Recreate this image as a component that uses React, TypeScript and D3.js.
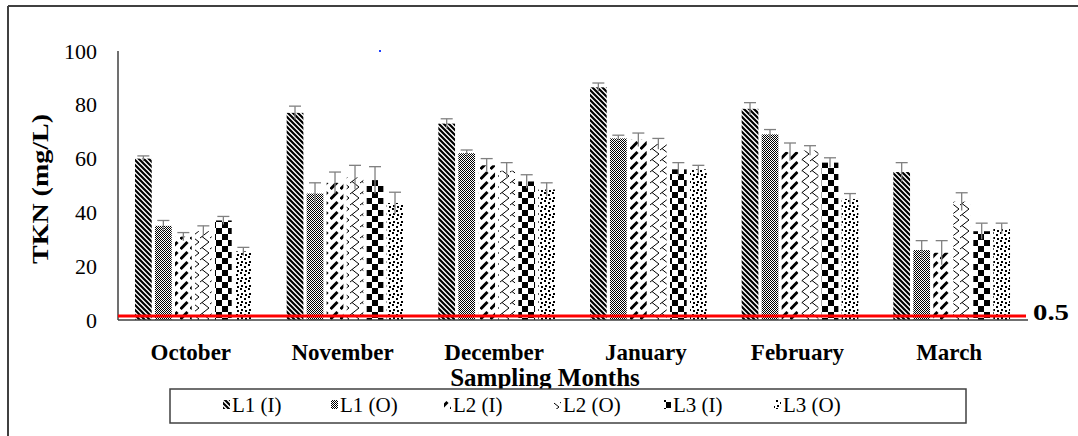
import React from "react";
import * as d3 from "d3";

const months = ["October", "November", "December", "January", "February", "March"];
const seriesNames = ["L1 (I)", "L1 (O)", "L2 (I)", "L2 (O)", "L3 (I)", "L3 (O)"];
const l1i = [60, 77, 73, 86.5, 78.5, 55];
const l1iErr = [1, 2.5, 1.8, 1.6, 2.3, 3.5];
const l1o = [35, 47, 62, 67.5, 69, 26];
const l1oErr = [2, 4, 1.2, 1.2, 1.8, 3.5];
const l2i = [31, 51, 57.5, 67, 62.5, 25];
const l2iErr = [1.5, 4, 2.5, 2.5, 3.3, 4.5];
const l2o = [33, 53, 55.5, 65.5, 63, 44];
const l2oErr = [2, 4.5, 3, 2, 1.8, 3.3];
const l3i = [37, 52, 51.5, 56, 58.5, 33];
const l3iErr = [1.5, 5, 2.5, 2.5, 1.8, 3];
const l3o = [25.5, 43.5, 48.5, 56, 45, 34];
const l3oErr = [1.5, 4, 2.5, 1.5, 2, 2];
const yTicks = [0, 20, 40, 60, 80, 100];
const threshold = 0.5;

const seriesValues = [l1i, l1o, l2i, l2o, l3i, l3o];
const seriesErrors = [l1iErr, l1oErr, l2iErr, l2oErr, l3iErr, l3oErr];
const patternIds = ["p0", "p1", "p2", "p3", "p4", "p5"];

const FONT = '"Liberation Serif"';

function Patterns() {
  return (
    <defs>
      <pattern id="p0" patternUnits="userSpaceOnUse" width="5" height="5">
        <rect width="5" height="5" fill="#fff" />
        <path d="M-1,-1 L6,6 M-6,-1 L1,6 M4,-1 L11,6" stroke="#000" strokeWidth="2.2" />
      </pattern>
      <pattern id="p1" patternUnits="userSpaceOnUse" width="2" height="2">
        <rect width="2" height="2" fill="#fff" />
        <rect x="0" y="0" width="1" height="1" fill="#000" />
        <rect x="1" y="1" width="1" height="1" fill="#000" />
      </pattern>
      <pattern id="p2" patternUnits="userSpaceOnUse" width="10" height="10">
        <rect width="10" height="10" fill="#fff" />
        <path d="M0.5,9 L7.5,2" stroke="#000" strokeWidth="3" strokeLinecap="butt" />
      </pattern>
      <pattern id="p3" patternUnits="userSpaceOnUse" width="10" height="11">
        <rect width="10" height="11" fill="#fff" />
        <path d="M9,0 L2,5.5 L9,11 M2,5.5 L0,7" stroke="#000" strokeWidth="1" fill="none" />
      </pattern>
      <pattern id="p4" patternUnits="userSpaceOnUse" width="12" height="12">
        <rect width="12" height="12" fill="#fff" />
        <rect x="0" y="0" width="6" height="6" fill="#000" />
        <rect x="6" y="6" width="6" height="6" fill="#000" />
      </pattern>
      <pattern id="p5" patternUnits="userSpaceOnUse" width="8" height="8">
        <rect width="8" height="8" fill="#fff" />
        <rect x="0" y="0" width="2" height="2" fill="#000" />
        <rect x="4" y="2" width="2" height="2" fill="#000" />
        <rect x="1" y="5" width="2" height="2" fill="#000" />
        <rect x="5" y="6" width="2" height="2" fill="#000" />
      </pattern>
    </defs>
  );
}

export default function App() {
  const W = 1078;
  const H = 436;
  const plotLeft = 118;
  const plotRight = 1028;
  const x0 = d3.scaleBand<string>().domain(months).range([plotLeft, plotRight]);
  const x1 = d3.scaleBand<string>().domain(seriesNames).range([17, 133.7]).paddingInner(0.165);
  const y = d3.scaleLinear().domain([0, 100]).range([320, 51]);
  const capW = 12;

  const legendX = [223, 331, 444, 554, 664, 774];
  const txt = { fontFamily: FONT };

  return (
    <svg width={W} height={H} style={{ position: "absolute", left: 0, top: 0, display: "block" }}>
      <Patterns />
      <rect width={W} height={H} fill="#fff" />
      <line x1={8} y1={6} x2={W} y2={6} stroke="#404040" strokeWidth={2} />
      <line x1={8} y1={6} x2={8} y2={H} stroke="#404040" strokeWidth={2} />

      <line x1={plotLeft} y1={y(100)} x2={plotLeft} y2={y(0)} stroke="#404040" strokeWidth={1.5} />
      {yTicks.map((t) => (
        <text key={t} style={txt} x={97} y={y(t)} textAnchor="end" dominantBaseline="central" fontSize={22} fill="#000">
          {t}
        </text>
      ))}
      <text
        style={txt}
        transform={`translate(40, 189) rotate(-90)`}
        textAnchor="middle"
        dominantBaseline="central"
        fontSize={23}
        fontWeight="bold"
        fill="#000"
        textLength={150}
        lengthAdjust="spacingAndGlyphs"
      >
        TKN  (mg/L)
      </text>

      {months.map((m, i) => (
        <g key={m}>
          {seriesNames.map((s, j) => {
            const bx = (x0(m) as number) + (x1(s) as number);
            const bw = x1.bandwidth();
            const v = seriesValues[j][i];
            const e = seriesErrors[j][i];
            const cx = bx + bw / 2;
            return (
              <g key={s}>
                <rect x={bx} y={y(v)} width={bw} height={y(0) - y(v)} fill={`url(#${patternIds[j]})`} />
                <line x1={cx} x2={cx} y1={y(v + e)} y2={y(v - e)} stroke="#808080" strokeWidth={1.3} />
                <line x1={cx - capW / 2} x2={cx + capW / 2} y1={y(v + e)} y2={y(v + e)} stroke="#808080" strokeWidth={1.3} />
              </g>
            );
          })}
          <text
            style={txt}
            x={(x0(m) as number) + x0.bandwidth() / 2 - 3}
            y={352}
            textAnchor="middle"
            dominantBaseline="central"
            fontSize={23}
            fontWeight="bold"
            fill="#000"
          >
            {m}
          </text>
        </g>
      ))}

      <line x1={plotLeft} y1={y(0)} x2={plotRight} y2={y(0)} stroke="#404040" strokeWidth={1.5} />

      <line x1={plotLeft} x2={1026} y1={y(threshold) - 2.6} y2={y(threshold) - 2.6} stroke="#ff0000" strokeWidth={3} />
      <text
        style={txt}
        x={1033}
        y={y(threshold) - 6}
        dominantBaseline="central"
        fontSize={23}
        fontWeight="bold"
        fill="#000"
        textLength={36}
        lengthAdjust="spacingAndGlyphs"
      >
        {threshold}
      </text>

      <rect x={379} y={50} width={2} height={2} fill="#2040ff" />

      <text style={txt} x={545} y={377} textAnchor="middle" dominantBaseline="central" fontSize={25} fontWeight="bold" fill="#000">
        Sampling Months
      </text>

      <rect x={170} y={389} width={796} height={34} fill="#fff" stroke="#404040" strokeWidth={1.5} />
      {seriesNames.map((s, j) => (
        <g key={s}>
          <rect x={legendX[j]} y={400} width={7} height={9} fill={`url(#${patternIds[j]})`} />
          <text style={txt} x={legendX[j] + 9} y={405} dominantBaseline="central" fontSize={21} fill="#000">
            {s}
          </text>
        </g>
      ))}
    </svg>
  );
}
